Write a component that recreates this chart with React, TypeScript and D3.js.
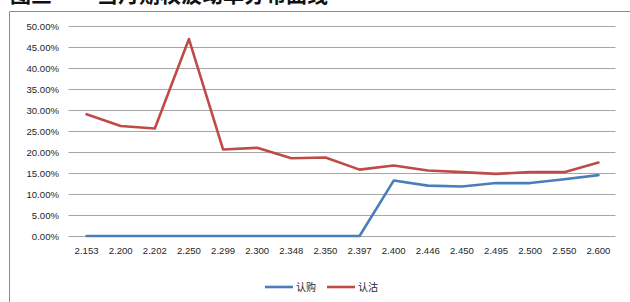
// 当月期权波动率曲线 - D3 line chart (认购 / 认沽)

import { useEffect, useRef } from "react";
import * as d3 from "d3";

const strikes = [
  "2.153", "2.200", "2.202", "2.250", "2.299", "2.300", "2.348", "2.350",
  "2.397", "2.400", "2.446", "2.450", "2.495", "2.500", "2.550", "2.600",
];
const callVol = [0, 0, 0, 0, 0, 0, 0, 0, 0, 0.132, 0.12, 0.118, 0.126, 0.126, 0.135, 0.145];
const putVol = [0.29, 0.262, 0.256, 0.469, 0.206, 0.21, 0.185, 0.187, 0.158, 0.168, 0.156, 0.152, 0.148, 0.152, 0.152, 0.175];
const yTicks = [0, 0.05, 0.1, 0.15, 0.2, 0.25, 0.3, 0.35, 0.4, 0.45, 0.5];
const seriesNames = ["认购", "认沽"];
const seriesColors = ["#4a7ebb", "#be4b48"];
const titleParts = ["图三", "当月期权波动率分布曲线"];

const W = 630;
const H = 302;
const FONT = "'Liberation Sans', Arial, sans-serif";

export default function App() {
  const svgRef = useRef<SVGSVGElement>(null);

  useEffect(() => {
    if (!svgRef.current) return;
    const svg = d3.select(svgRef.current);
    svg.selectAll("*").remove();

    const left = 69.5;
    const right = 615.5;
    const top = 26;
    const bottom = 236;

    const x = d3.scalePoint<string>().domain(strikes).range([left, right]).padding(0.5);
    const y = d3.scaleLinear().domain([0, 0.5]).range([bottom, top]);

    svg.append("rect").attr("width", W).attr("height", H).attr("fill", "#fff");

    // title, cut off at the top edge
    const titleX = [10, 97];
    titleParts.forEach((t, i) => {
      svg
        .append("text")
        .attr("x", titleX[i])
        .attr("y", 2)
        .attr("fill", "#111")
        .style("font-family", "'Noto Sans CJK SC', sans-serif")
        .style("font-size", "21px")
        .style("font-weight", "bold")
        .text(t);
    });

    // chart frame
    svg
      .append("path")
      .attr("d", `M${W + 1},11.5 H9.5 V${H + 1}`)
      .attr("fill", "none")
      .attr("stroke", "#8c8c8c")
      .attr("stroke-width", 1);

    // gridlines
    svg
      .append("g")
      .selectAll("line")
      .data(yTicks)
      .enter()
      .append("line")
      .attr("x1", left - 1)
      .attr("x2", right)
      .attr("y1", (d) => Math.round(y(d)) + 0.5)
      .attr("y2", (d) => Math.round(y(d)) + 0.5)
      .attr("stroke", "#a6a6a6")
      .attr("stroke-width", 1.2);

    // y labels
    svg
      .append("g")
      .selectAll("text")
      .data(yTicks)
      .enter()
      .append("text")
      .attr("x", 59)
      .attr("y", (d) => y(d) + 3.5)
      .attr("text-anchor", "end")
      .attr("fill", "#262626")
      .style("font-family", FONT)
      .style("font-size", "9.6px")
      .text((d) => d3.format(".2%")(d));

    // x labels
    svg
      .append("g")
      .selectAll("text")
      .data(strikes)
      .enter()
      .append("text")
      .attr("x", (d) => x(d)!)
      .attr("y", 253.5)
      .attr("text-anchor", "middle")
      .attr("fill", "#262626")
      .style("font-family", FONT)
      .style("font-size", "9.6px")
      .text((d) => d);

    // lines
    const line = d3
      .line<number>()
      .x((_, i) => x(strikes[i])!)
      .y((d) => y(d));

    [callVol, putVol].forEach((vals, k) => {
      svg
        .append("path")
        .datum(vals)
        .attr("d", line)
        .attr("fill", "none")
        .attr("stroke", seriesColors[k])
        .attr("stroke-width", 2.6)
        .attr("stroke-linejoin", "round")
        .attr("stroke-linecap", "round");
    });

    // legend
    const lg = svg.append("g");
    const legendX = [265, 327];
    seriesNames.forEach((name, k) => {
      lg.append("line")
        .attr("x1", legendX[k])
        .attr("x2", legendX[k] + 28)
        .attr("y1", 287)
        .attr("y2", 287)
        .attr("stroke", seriesColors[k])
        .attr("stroke-width", 2.6);
      lg.append("text")
        .attr("x", legendX[k] + 31)
        .attr("y", 291)
        .attr("fill", "#262626")
        .style("font-family", "'Noto Sans CJK SC', sans-serif")
        .style("font-size", "10px")
        .text(name);
    });
  }, []);

  return (
    <svg
      ref={svgRef}
      width={W}
      height={H}
      style={{ position: "absolute", left: 0, top: 0 }}
    />
  );
}
